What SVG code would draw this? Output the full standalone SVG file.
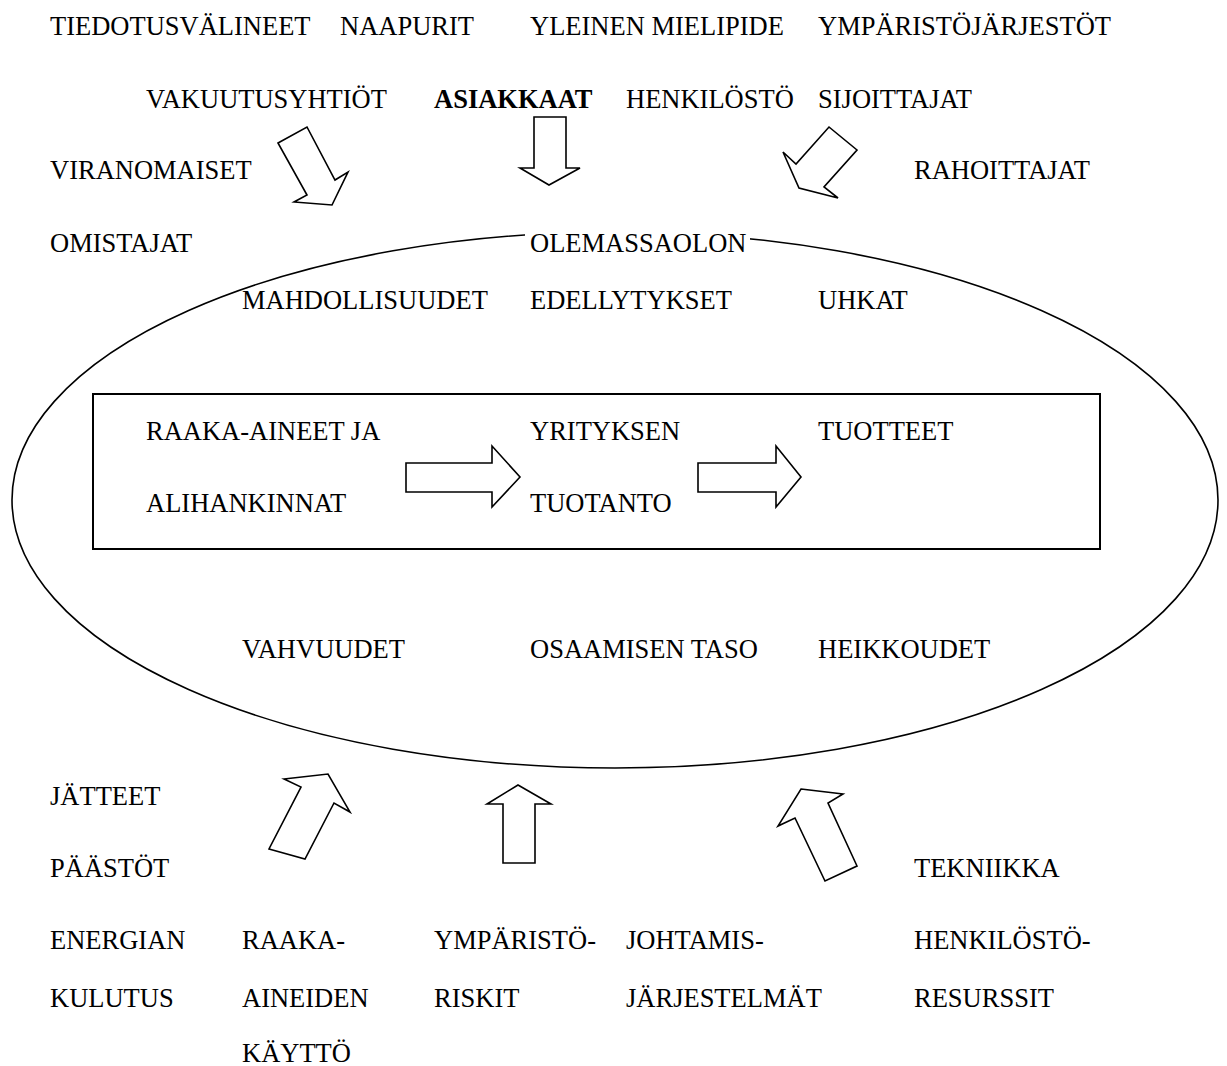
<svg xmlns="http://www.w3.org/2000/svg" width="1227" height="1066" viewBox="0 0 1227 1066">
<style>
.ar{fill:#fff;stroke:#000;stroke-width:1.6;stroke-linejoin:miter}
.sh{fill:none;stroke:#000}
</style>
<rect width="1227" height="1066" fill="#fff"/>
<g id="ellipse"><ellipse class="sh" cx="615" cy="500" rx="603" ry="268" stroke-width="1.6"/></g>
<g id="box"><rect class="sh" x="93" y="394" width="1007" height="155" stroke-width="2"/></g>
<g id="connectors">
<polygon class="ar" points="278,143 307,127 335,180 348,172 332,205 294,202 307,195"/>
<polygon class="ar" points="534,117 566,117 566,168 580,168 549,185 520,168 534,168"/>
<polygon class="ar" points="829,127 857,150 824,187 838,198 799,188 783,152 796,164"/>
<polygon class="ar" points="406,463 492,463 492,446 520,477 492,507 492,492 406,492"/>
<polygon class="ar" points="698,463 776,463 776,446 801,477 776,507 776,492 698,492"/>
<polygon class="ar" points="284,779 328,774 350,812 334,803 305,859 269,849 301,787"/>
<polygon class="ar" points="518,785 551,804 535,804 535,863 503,863 503,804 487,804"/>
<polygon class="ar" points="801,789 843,794 828,803 857,866 825,881 795,818 778,826"/>
</g>
<g font-family="'Liberation Serif', 'Times New Roman', serif" font-size="26.5" fill="#000">
<g id="top">
<text x="50" y="35">TIEDOTUSVÄLINEET</text>
<text x="340" y="35">NAAPURIT</text>
<text x="530" y="35">YLEINEN MIELIPIDE</text>
<text x="818" y="35">YMPÄRISTÖJÄRJESTÖT</text>
<text x="146" y="108">VAKUUTUSYHTIÖT</text>
<text x="434" y="108" font-weight="bold">ASIAKKAAT</text>
<text x="626" y="108">HENKILÖSTÖ</text>
<text x="818" y="108">SIJOITTAJAT</text>
<text x="50" y="179">VIRANOMAISET</text>
<text x="914" y="179">RAHOITTAJAT</text>
<text x="50" y="252">OMISTAJAT</text>
</g>
<g id="inside">
<rect x="525" y="222" width="225" height="40" fill="#fff"/>
<text x="530" y="252">OLEMASSAOLON</text>
<text x="242" y="309">MAHDOLLISUUDET</text>
<text x="530" y="309">EDELLYTYKSET</text>
<text x="818" y="309">UHKAT</text>
<text x="146" y="440">RAAKA-AINEET JA</text>
<text x="530" y="440">YRITYKSEN</text>
<text x="818" y="440">TUOTTEET</text>
<text x="146" y="512">ALIHANKINNAT</text>
<text x="530" y="512">TUOTANTO</text>
<text x="242" y="658">VAHVUUDET</text>
<text x="530" y="658">OSAAMISEN TASO</text>
<text x="818" y="658">HEIKKOUDET</text>
</g>
<g id="bottom">
<text x="50" y="805">JÄTTEET</text>
<text x="50" y="877">PÄÄSTÖT</text>
<text x="914" y="877">TEKNIIKKA</text>
<text x="50" y="949">ENERGIAN</text>
<text x="242" y="949">RAAKA-</text>
<text x="434" y="949">YMPÄRISTÖ-</text>
<text x="626" y="949">JOHTAMIS-</text>
<text x="914" y="949">HENKILÖSTÖ-</text>
<text x="50" y="1007">KULUTUS</text>
<text x="242" y="1007">AINEIDEN</text>
<text x="434" y="1007">RISKIT</text>
<text x="626" y="1007">JÄRJESTELMÄT</text>
<text x="914" y="1007">RESURSSIT</text>
<text x="242" y="1062">KÄYTTÖ</text>
</g>
</g>
</svg>
